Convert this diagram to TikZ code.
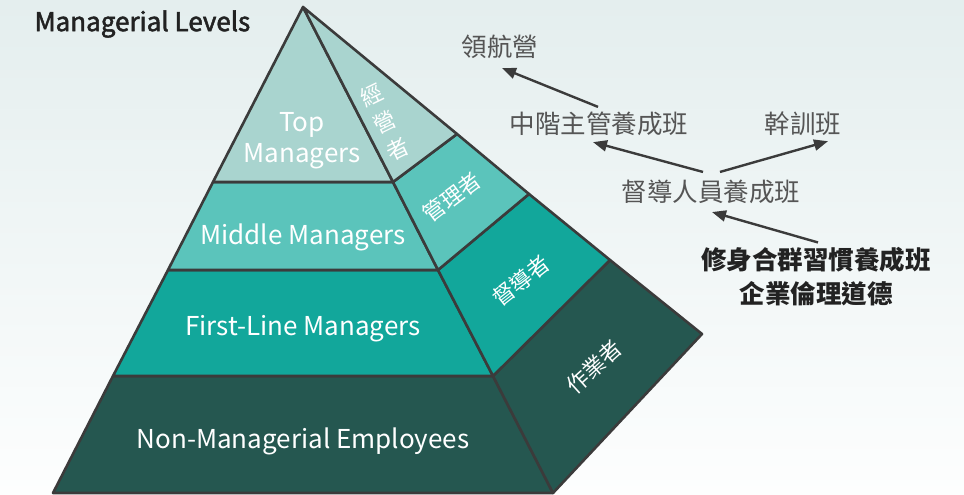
\documentclass[tikz,border=0pt]{standalone}
\usepackage{fontspec}
\setmainfont{Noto Sans CJK TC}
\newfontfamily\medfont[FakeBold=2]{Noto Sans CJK TC}
\usetikzlibrary{arrows.meta,calc}
\definecolor{bgtop}{HTML}{E4EEEE}
\definecolor{bgbot}{HTML}{FDFEFE}
\definecolor{edge}{HTML}{3B3B3B}
\definecolor{topc}{HTML}{A9D4CF}
\definecolor{midc}{HTML}{5BC4BB}
\definecolor{firstc}{HTML}{12A79B}
\definecolor{basec}{HTML}{255750}
\definecolor{txtgrey}{HTML}{555555}
\definecolor{txtdark}{HTML}{222222}

\begin{document}
\begin{tikzpicture}[x=1pt,y=-1pt]
    \tikzset{band/.style={draw=edge,line width=2.6pt,line join=round},
      lvl/.style={text=white,align=center,font=\fontsize{26}{31}\selectfont},
      side/.style={text=white,align=center,font=\fontsize{22}{30}\selectfont},
      course/.style={text=txtgrey,inner sep=0pt,font=\fontsize{25.5}{30}\selectfont},
      link/.style={-{Triangle[length=14pt,width=11pt]},draw=edge,line width=2.4pt}}
    \useasboundingbox (0,0) rectangle (964,495);
    \shade[top color=bgtop,bottom color=bgbot] (0,0) rectangle (964,495);
    \coordinate (A) at (303,7);
    \coordinate (L1) at (213,182);
    \coordinate (L2) at (168,270);
    \coordinate (L3) at (113,376);
    \coordinate (L4) at (53,493);
    \coordinate (R1) at (393,182);
    \coordinate (R2) at (438,270);
    \coordinate (R3) at (493,376);
    \coordinate (R4) at (553,493);
    \coordinate (S1) at (457,134);
    \coordinate (S2) at (529,194);
    \coordinate (S3) at (610,260);
    \coordinate (S4) at (702,334);
    \filldraw[band,fill=basec] (L3) -- (R3) -- (R4) -- (L4) -- cycle;
    \filldraw[band,fill=firstc] (L2) -- (R2) -- (R3) -- (L3) -- cycle;
    \filldraw[band,fill=midc] (L1) -- (R1) -- (R2) -- (L2) -- cycle;
    \filldraw[band,fill=topc] (A) -- (R1) -- (L1) -- cycle;
    \filldraw[band,fill=basec] (R3) -- (S3) -- (S4) -- (R4) -- cycle;
    \filldraw[band,fill=firstc] (R2) -- (S2) -- (S3) -- (R3) -- cycle;
    \filldraw[band,fill=midc] (R1) -- (S1) -- (S2) -- (R2) -- cycle;
    \filldraw[band,fill=topc] (A) -- (S1) -- (R1) -- cycle;
    \node[text=txtdark,anchor=west,font=\fontsize{26}{30}\medfont] (title) at (31,24) {Managerial Levels};
    \node[lvl] (top) at (302,141) {Top\\Managers};
    \node[lvl] (middle) at (303,237) {Middle Managers};
    \node[lvl] (first) at (303,329) {First-Line Managers};
    \node[lvl] (base) at (303,441) {Non-Managerial Employees};
    \node[side,rotate=26] (jy) at (385,122) {經\\營\\者};
    \node[side,rotate=37] (gl) at (452,197) {管理者};
    \node[side,rotate=38] (dd) at (521,281) {督導者};
    \node[side,rotate=42] (zy) at (594,367) {作業者};
    \node[course] (lhy) at (500,47) {領航營};
    \node[course] (zjzg) at (599,124) {中階主管養成班};
    \node[course] (gxb) at (803,124) {幹訓班};
    \node[course] (ddry) at (711,192) {督導人員養成班};
    \node[course,text=txtdark,align=center,font=\fontsize{25.5}{34}\selectfont\bfseries] (xsqy) at (816,277) {修身合群習慣養成班\\企業倫理道德};
    \draw[link] ([xshift=-1pt,yshift=5pt]zjzg.north) -- ([xshift=2pt,yshift=-9pt]lhy.south);
    \draw[link] ([xshift=-8pt,yshift=8pt]ddry.north) -- ([xshift=-6pt,yshift=-6pt]zjzg.south);
    \draw[link] ([xshift=9pt,yshift=8pt]ddry.north) -- ([xshift=25pt,yshift=-5pt]gxb.south);
    \draw[link] ([xshift=2pt,yshift=5pt]xsqy.north) -- ([xshift=1pt,yshift=-8pt]ddry.south);
\end{tikzpicture}
\end{document}
